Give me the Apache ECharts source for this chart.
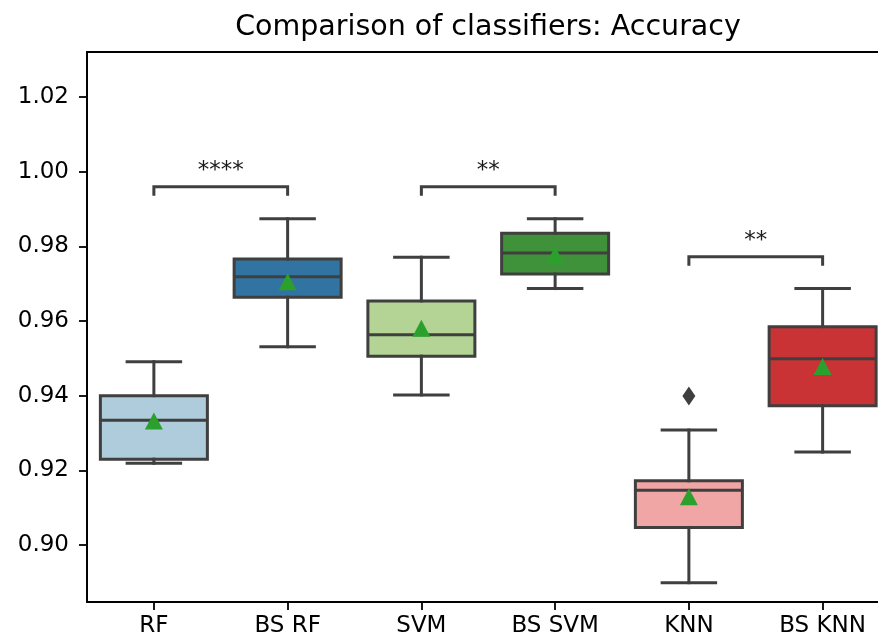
<!DOCTYPE html>
<html>
<head>
<meta charset="utf-8">
<script src="https://cdn.jsdelivr.net/npm/echarts@6/dist/echarts.min.js"></script>
<style>
  html, body { margin: 0; padding: 0; background: #fff; overflow: hidden; }
  #chart { width: 878px; height: 640px; }
</style>
</head>
<body>
<div id="chart"></div>
<script>
// Classifier accuracy distributions (cross-validation folds)
const categories   = ['RF', 'BS RF', 'SVM', 'BS SVM', 'KNN', 'BS KNN'];
const whiskerLow   = [0.9219, 0.9531, 0.9402, 0.9687, 0.8899, 0.9249];
const quartile1    = [0.9230, 0.9664, 0.9506, 0.9726, 0.9047, 0.9373];
const medians      = [0.9334, 0.9719, 0.9563, 0.9782, 0.9147, 0.9499];
const quartile3    = [0.9400, 0.9766, 0.9654, 0.9835, 0.9172, 0.9585];
const whiskerHigh  = [0.9491, 0.9874, 0.9771, 0.9874, 0.9308, 0.9687];
const means        = [0.9332, 0.9705, 0.9581, 0.9777, 0.9129, 0.9478];
const outliers     = [[4, 0.9399]];
const yTicks       = [0.90, 0.92, 0.94, 0.96, 0.98, 1.00, 1.02];

// Significance brackets: [left category, right category, height, stars]
const brackets = [
  [0, 1, 0.9960, '****'],
  [2, 3, 0.9960, '**'],
  [4, 5, 0.9772, '**']
];

const boxColors = ['#aeccdb', '#3274a1', '#b3d495', '#40923a', '#efa6a5', '#ca3335'];
const LINE = '#3f3f3f';
const FONT = 'DejaVu Sans';

const boxData = categories.map((c, i) =>
  [i, whiskerLow[i], quartile1[i], medians[i], quartile3[i], whiskerHigh[i]]);
const meanData = categories.map((c, i) => [i, means[i]]);
const bracketData = brackets.map(b => [b[0], b[1], b[2]]);

function renderBox(params, api) {
  const i = api.value(0);
  const pt = v => api.coord([i, v]);
  const band = api.size([1, 0])[0];
  const boxW = band * 0.8;
  const capW = boxW / 2;
  const cx = pt(api.value(3))[0];
  const yLo = pt(api.value(1))[1];
  const yQ1 = pt(api.value(2))[1];
  const yMed = pt(api.value(3))[1];
  const yQ3 = pt(api.value(4))[1];
  const yHi = pt(api.value(5))[1];
  const ls = { stroke: LINE, lineWidth: 3, fill: null, lineCap: 'square' };
  return {
    type: 'group',
    children: [
      { type: 'rect', shape: { x: cx - boxW / 2, y: yQ3, width: boxW, height: yQ1 - yQ3 },
        style: { fill: boxColors[params.dataIndex], stroke: LINE, lineWidth: 3, lineJoin: 'miter' } },
      { type: 'line', shape: { x1: cx, y1: yQ1, x2: cx, y2: yLo }, style: ls },
      { type: 'line', shape: { x1: cx, y1: yQ3, x2: cx, y2: yHi }, style: ls },
      { type: 'line', shape: { x1: cx - capW / 2, y1: yLo, x2: cx + capW / 2, y2: yLo }, style: ls },
      { type: 'line', shape: { x1: cx - capW / 2, y1: yHi, x2: cx + capW / 2, y2: yHi }, style: ls },
      { type: 'line', shape: { x1: cx - boxW / 2, y1: yMed, x2: cx + boxW / 2, y2: yMed },
        style: { stroke: LINE, lineWidth: 3 } }
    ]
  };
}

function renderBracket(params, api) {
  const a = api.coord([api.value(0), api.value(2)]);
  const b = api.coord([api.value(1), api.value(2)]);
  const drop = 9;
  return {
    type: 'group',
    children: [
      { type: 'polyline',
        shape: { points: [[a[0], a[1] + drop], [a[0], a[1]], [b[0], b[1]], [b[0], b[1] + drop]] },
        style: { stroke: LINE, lineWidth: 3, fill: null } },
      { type: 'text',
        style: { text: brackets[params.dataIndex][3], x: (a[0] + b[0]) / 2, y: a[1] - 16,
                 align: 'center', verticalAlign: 'middle',
                 font: '23px "' + FONT + '"', fill: '#1a1a1a' } }
    ]
  };
}

const chart = echarts.init(document.getElementById('chart'), null, { renderer: 'canvas' });
chart.setOption({
  animation: false,
  backgroundColor: '#fff',
  title: {
    text: 'Comparison of classifiers: Accuracy',
    left: 488, top: 13, padding: 0, textAlign: 'center',
    textStyle: { fontFamily: FONT, fontSize: 28.5, fontWeight: 'normal', color: '#000' }
  },
  grid: {
    left: 87, top: 52, width: 802.5, height: 550,
    outerBoundsMode: 'none', containLabel: false,
    show: true, borderColor: '#000', borderWidth: 1.8, backgroundColor: 'transparent'
  },
  xAxis: {
    type: 'category',
    data: categories,
    boundaryGap: true,
    axisLine: { show: true, lineStyle: { color: '#000', width: 1.8 } },
    axisTick: { show: true, alignWithLabel: true, length: 8, lineStyle: { color: '#000', width: 1.8 } },
    axisLabel: { fontFamily: FONT, fontSize: 23, color: '#000', margin: 13, interval: 0 },
    splitLine: { show: false }
  },
  yAxis: {
    type: 'value',
    min: 0.88473, max: 1.03208,
    axisLine: { show: true, lineStyle: { color: '#000', width: 1.8 } },
    axisTick: { show: true, length: 8, customValues: yTicks, lineStyle: { color: '#000', width: 1.8 } },
    axisLabel: { fontFamily: FONT, fontSize: 23, color: '#000', margin: 18,
                 customValues: yTicks, formatter: v => v.toFixed(2) },
    splitLine: { show: false }
  },
  series: [
    { type: 'custom', name: 'boxes', renderItem: renderBox, data: boxData,
      encode: { x: 0, y: [1, 2, 3, 4, 5] }, z: 2 },
    { type: 'scatter', name: 'mean', data: meanData, symbol: 'triangle', symbolSize: [18, 17],
      itemStyle: { color: '#2ca02c', opacity: 1 }, z: 5 },
    { type: 'scatter', name: 'outliers', data: outliers, symbol: 'diamond', symbolSize: [13, 19],
      itemStyle: { color: LINE, opacity: 1 }, z: 5 },
    { type: 'custom', name: 'significance', renderItem: renderBracket, data: bracketData,
      encode: { x: [0, 1], y: 2 }, z: 4 }
  ]
});
</script>
</body>
</html>
